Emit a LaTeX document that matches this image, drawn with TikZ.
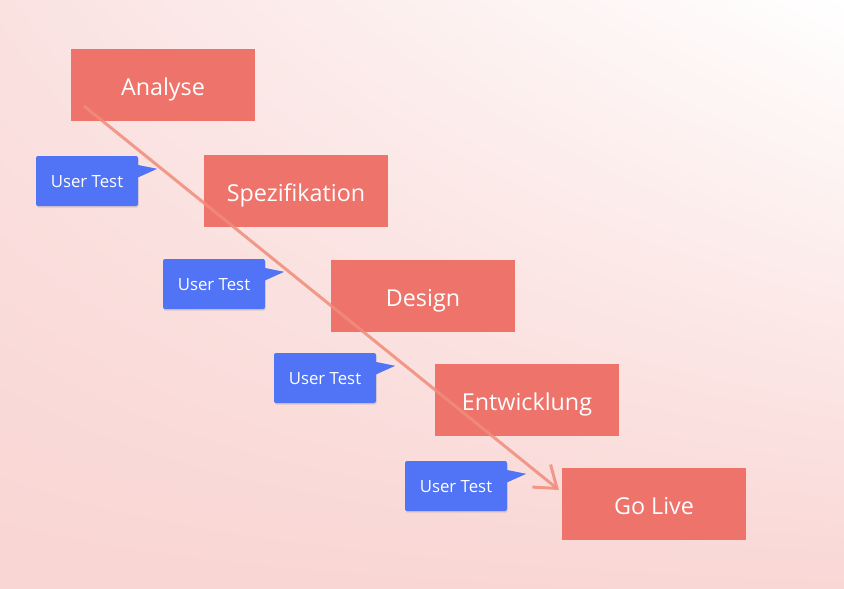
\documentclass[tikz,border=0pt]{standalone}
\usepackage{fontspec}
\setmainfont{Open Sans}
\usetikzlibrary{arrows.meta,shadows,shadings}
\definecolor{phaseR}{HTML}{EE736B}
\definecolor{testB}{HTML}{5174F6}
\definecolor{arrowS}{HTML}{F08C7A}
\definecolor{bgTopL}{HTML}{FAE2E1}
\definecolor{bgLowL}{HTML}{F9D5D3}
\definecolor{bgLowR}{HTML}{F9D7D5}

\begin{document}
\begin{tikzpicture}[x=1pt, y=-1pt,
  phase/.style={fill=phaseR, text=white, minimum width=184pt, minimum height=72pt,
    inner sep=0pt, text height=21.9pt, text depth=0pt,
    font=\fontsize{23.3}{27}\selectfont},
  usertest/.style={fill=testB, text=white, rounded corners=2pt, minimum width=102pt,
    minimum height=50pt, inner sep=0pt, text height=13.1pt, text depth=0pt,
    font=\fontsize{16.8}{19}\selectfont,
    drop shadow={opacity=0.25, shadow xshift=0.6pt, shadow yshift=-1.6pt}},
  pointer/.style={fill=testB}]
  \useasboundingbox (0,0) rectangle (844,589);

  % background wash, white in the upper right corner
  \shade[upper left=bgTopL, upper right=white, lower left=bgLowL, lower right=bgLowR]
    (0,0) rectangle (844,589);

  % phases of the waterfall
  \node[phase] (analyse) at (163,85)  {Analyse};
  \node[phase] (spez)    at (296,191) {Spezifikation};
  \node[phase] (design)  at (423,296) {Design};
  \node[phase] (entw)    at (527,400) {Entwicklung};
  \node[phase] (golive)  at (654,504) {Go Live};

  % chalky arrow down the cascade
  \coordinate (arrstart) at (84,106);
  \coordinate (arrend)   at (559,490);
  \draw[arrowS, opacity=0.85, line width=3pt,
    -{Straight Barb[length=20pt, width=29pt]}] (arrstart) -- (arrend);

  % user tests between the phases
  \foreach \n/\x/\y in {t1/87/181, t2/214/284, t3/325/378, t4/456/486}{
    \node[usertest] (\n) at (\x,\y) {User Test};
    \fill[pointer] ([xshift=-1pt, yshift=-9pt]\n.north east)
      -- ([xshift=19pt, yshift=-13pt]\n.north east)
      -- ([xshift=-1pt, yshift=-22pt]\n.north east) -- cycle;
  }

\end{tikzpicture}
\end{document}
